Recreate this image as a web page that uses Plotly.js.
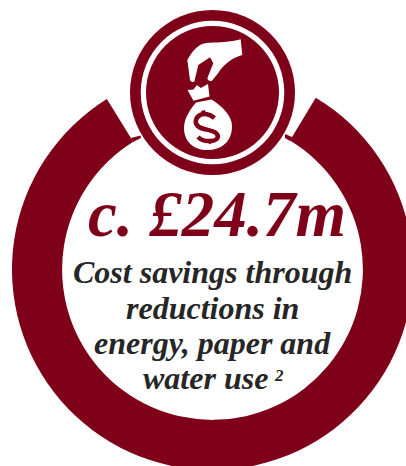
<!DOCTYPE html>
<html>
<head>
<meta charset="utf-8">
<script src="https://cdn.plot.ly/plotly-3.0.1.min.js"></script>
<style>
  html, body { margin: 0; padding: 0; width: 406px; height: 466px; overflow: hidden; background: #fff; }
</style>
</head>
<body>
<div id="chart"></div>
<script>
// Ring segments in degrees: the drawn arc and the opening under the badge
const segmentNames = ['Savings ring', 'Opening'];
const segmentValues = [297.2, 62.8];
const headline = 'c. £24.7m';
const captionLines = ['Cost savings through', 'reductions in', 'energy, paper and', 'water use'];
const captionBaselines = [282, 318, 353, 388];
const captionCentres = [212.5, 212.5, 212.5, 205];
const footnoteMark = '2';

const WINE = '#7f0019';
const INK = '#262626';
const W = 425, H = 470;
const serif = '"Liberation Serif", serif';

const fx = x => x / W;
const fy = y => 1 - y / H;

// Turn a path written in page pixels into paper coordinates
function toPaper(path) {
  return path.replace(/(-?[\d.]+),(-?[\d.]+)/g,
    (m, x, y) => fx(+x).toFixed(5) + ',' + fy(+y).toFixed(5));
}

function disc(cx, cy, r, color) {
  return { type: 'circle', xref: 'paper', yref: 'paper',
    x0: fx(cx - r), x1: fx(cx + r), y0: fy(cy + r), y1: fy(cy - r),
    fillcolor: color, line: { width: 0 } };
}

function solid(path, color) {
  return { type: 'path', xref: 'paper', yref: 'paper', path: toPaper(path),
    fillcolor: color, line: { width: 0 } };
}

function stroke(path, color, width) {
  return { type: 'path', xref: 'paper', yref: 'paper', path: toPaper(path),
    line: { color: color, width: width, cap: 'round' } };
}

const shapes = [
  // Thin tails of the ring running in towards the badge
  solid('M131,138 L140.5,135.5 L141,138 L133,142 Z', WINE),
  solid('M292,137 L285,134 L285,138 L290,141 Z', WINE),
  // Badge
  disc(212.5, 92.5, 82.5, WINE),
  disc(212.5, 92.5, 71.8, '#ffffff'),
  disc(212.5, 92.5, 66.5, WINE),
  // Hand
  solid('M240.7,39.3 L242.3,55 C235,57 230,60 226.7,63.3 C222,67 219,72 216.7,75 L211.7,81 C209.5,81.5 207.5,80 207.3,78.3 L213.3,63.3 L210,57.3 L198.3,65 L194.3,81.7 C192.5,82.5 190.5,81.5 190,80 L187.3,60 C191,53 195,48 200,45 C204,43 207,42.7 210,42.7 C218,42.7 230,42 240.7,39.3 Z', '#ffffff'),
  // Bag tie
  solid('M187.5,90 L193.5,89.5 L197,85 L200.7,88 L208,84 L209.5,96.5 L193.5,100.7 Z', '#ffffff'),
  // Bag
  solid('M196,102.5 C188,112 184,120 184,128 C184,142 194,150 207,150 C221,150 232,142 232,126 C232,116 222,106 211.5,99.5 Z', '#ffffff'),
  // Dollar sign on the bag
  stroke('M214.5,118 C210,114 204,113 200,115 C195,118 194,124 199,127 C203,129.5 212,130 216,133 C220,137 217,141 210,141 C205,141.5 201,140 198,137', WINE, 4.5),
  stroke('M203,110.5 L204,114', WINE, 4),
  stroke('M210,141 L211,143.5', WINE, 4)
];

const annotations = [
  { text: headline, x: fx(216.5), y: fy(238), xref: 'paper', yref: 'paper',
    xanchor: 'center', yanchor: 'bottom', yshift: -14, showarrow: false,
    font: { family: serif, size: 65, color: WINE, weight: 'bold', style: 'italic' } },
  { text: footnoteMark, x: fx(279), y: fy(375), xref: 'paper', yref: 'paper',
    xanchor: 'center', yanchor: 'middle', showarrow: false,
    font: { family: serif, size: 17, color: INK, weight: 'bold', style: 'italic' } }
].concat(captionLines.map((line, i) => ({
  text: line, x: fx(captionCentres[i]), y: fy(captionBaselines[i]), xref: 'paper', yref: 'paper',
  xanchor: 'center', yanchor: 'bottom', yshift: -10, showarrow: false,
  font: { family: serif, size: 32, color: INK, weight: 'bold', style: 'italic' }
})));

const ring = {
  type: 'pie',
  labels: segmentNames,
  values: segmentValues,
  hole: 0.75,
  sort: false,
  direction: 'clockwise',
  rotation: 31,
  textinfo: 'none',
  hoverinfo: 'skip',
  marker: { colors: [WINE, 'rgba(0,0,0,0)'], line: { width: 0 } },
  domain: { x: [12 / W, 413 / W], y: [0, 401 / H] }
};

Plotly.newPlot('chart', [ring], {
  width: W,
  height: H,
  margin: { l: 0, r: 0, t: 0, b: 0 },
  paper_bgcolor: '#ffffff',
  showlegend: false,
  shapes: shapes,
  annotations: annotations
}, { displayModeBar: false });
</script>
</body>
</html>
